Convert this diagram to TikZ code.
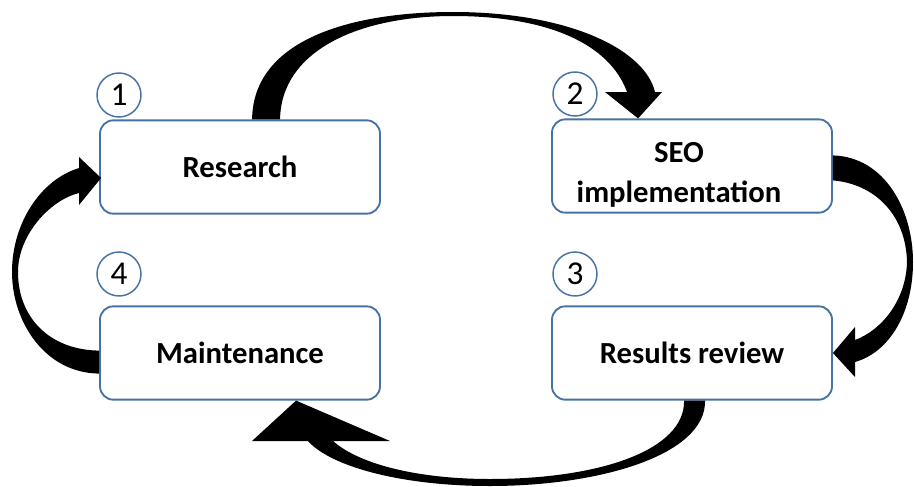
\documentclass[tikz,border=0pt]{standalone}
\usepackage{fontspec}
\setmainfont{Carlito}
\usetikzlibrary{calc}
\definecolor{boxblue}{RGB}{70,114,164}
\tikzset{
  stage/.style={rectangle, rounded corners=10pt, draw=boxblue, line width=1.4pt, fill=white,
                minimum width=210pt, minimum height=70pt, align=center,
                font=\bfseries\fontsize{23}{30}\selectfont},
  stagetext/.style={align=center, inner sep=0pt, font=\bfseries\fontsize{23}{30}\selectfont},
  num/.style={circle, draw=boxblue, line width=1.1pt, minimum size=33pt, inner sep=0pt,
              font=\fontsize{25}{25}\selectfont},
  blockarrow/.style={fill=black},
}
\begin{document}
\begin{tikzpicture}[x=0.75pt, y=-0.75pt]
\useasboundingbox (0,0) rectangle (914,486);
% stages
\node[stage] (research) at (240,167) {Research};
\node[stage] (seo) at (692,166) {};
\node[stagetext] (seotext) at ($(seo.center)+(-13,9)$) {SEO\\implementation};
\node[stage] (results) at (692,353) {Results review};
\node[stage] (maint) at (240,353) {Maintenance};
% step numbers
\foreach \n/\x/\y in {1/119/95, 2/575/94, 3/575/274, 4/119/274}
  \node[num] (n\n) at (\x,\y) {\n};
% research -> seo
\fill[blockarrow] ($(research.north west)+(153,0)$) .. controls (253,40) and (350,12) .. (453,12)
  .. controls (570,12) and (645,50) .. (655,92) -- (662,92) -- ($(seo.north west)+(87,0)$)
  -- (605,92) -- (627,92) .. controls (610,45) and (550,16) .. (453,16)
  .. controls (360,16) and (281,50) .. ($(research.north west)+(181,0)$) -- cycle;
% seo -> results
\fill[blockarrow] ($(seo.north east)+(0,37)$) .. controls (885,157) and (913,210) .. (913,262)
  .. controls (913,312) and (890,352) .. (855,362) -- (855,377) -- (results.east)
  -- (855,327) -- (855,340) .. controls (882,330) and (906,300) .. (907,262)
  .. controls (906,215) and (875,184) .. ($(seo.north east)+(0,62)$) -- cycle;
% results -> maintenance
\fill[blockarrow] ($(results.south west)+(154,0)$) .. controls (706,455) and (600,486) .. (490,486)
  .. controls (400,486) and (330,466) .. (308,441) -- (252,441) -- ($(maint.south west)+(197,0)$)
  -- (390,441) -- (333,441) .. controls (360,465) and (420,479) .. (490,479)
  .. controls (600,479) and (685,450) .. ($(results.south west)+(133,0)$) -- cycle;
% maintenance -> research
\fill[blockarrow] ($(maint.south west)+(0,-27)$) .. controls (45,373) and (12,322) .. (12,272)
  .. controls (12,224) and (40,180) .. (79,168) -- (79,157) -- ($(research.west)+(2,11)$)
  -- (79,205) -- (79,193) .. controls (50,200) and (18,235) .. (18,272)
  .. controls (18,318) and (50,350) .. ($(maint.south west)+(0,-50)$) -- cycle;
\end{tikzpicture}
\end{document}
